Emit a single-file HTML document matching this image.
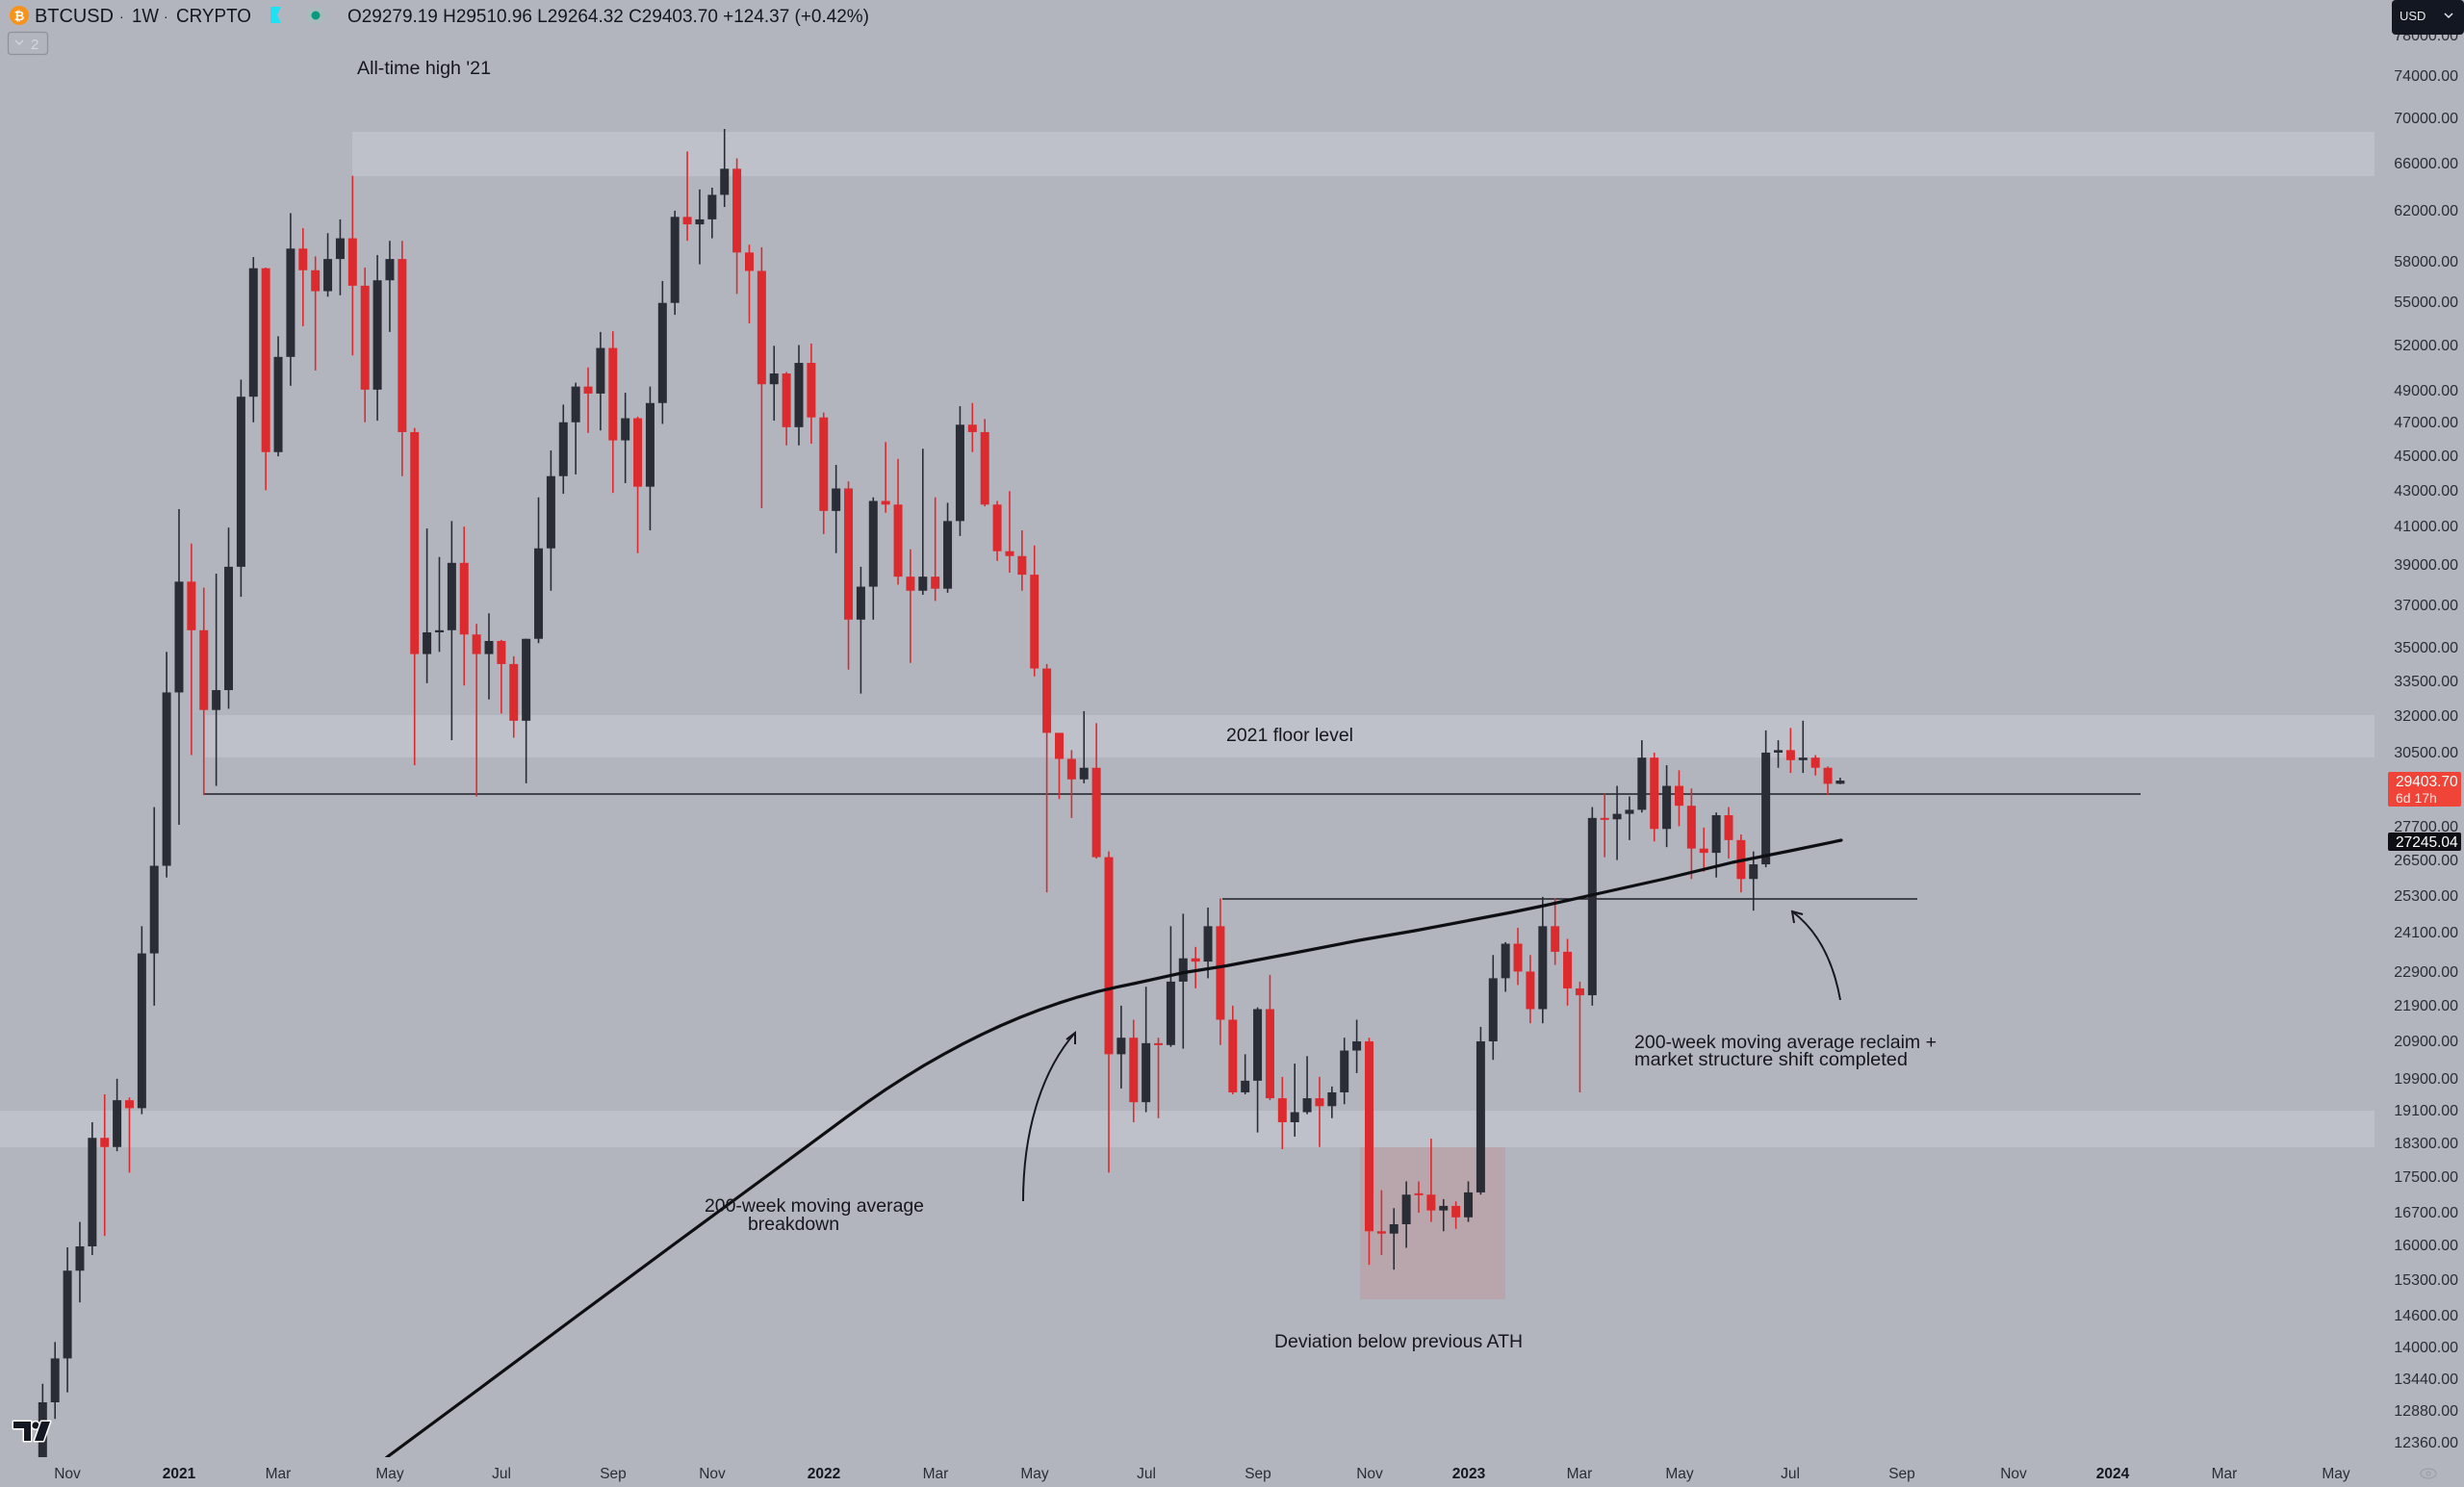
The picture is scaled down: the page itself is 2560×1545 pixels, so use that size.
<!DOCTYPE html>
<html>
<head>
<meta charset="utf-8">
<style>
html,body{margin:0;padding:0;background:#b2b5bd;overflow:hidden;width:2560px;height:1545px;}
svg{display:block;position:absolute;left:0;top:0;}
.ann{font-family:"Liberation Sans",sans-serif;font-size:19.5px;fill:#16181d;}
.ax{font-family:"Liberation Sans",sans-serif;font-size:16px;fill:#2a2d34;}
.tx{font-family:"Liberation Sans",sans-serif;font-size:15.5px;fill:#2a2d34;}
.hd{font-family:"Liberation Sans",sans-serif;fill:#131722;}
</style>
</head>
<body>
<svg id="chart" width="2560" height="1545" viewBox="0 0 2560 1545" xmlns="http://www.w3.org/2000/svg">
  <defs>
    <clipPath id="plot"><rect x="0" y="0" width="2467" height="1514"/></clipPath>
  </defs>
  <rect x="0" y="0" width="2560" height="1545" fill="#b2b5bd"/>

  <!-- zones -->
  <rect x="366" y="137" width="2101" height="46" fill="#bec1c9"/>
  <rect x="213" y="743" width="2254" height="44" fill="#bec1c9"/>
  <rect x="0" y="1154" width="2467" height="38" fill="#bec1c9"/>
  <rect x="1413" y="1192" width="151" height="158" fill="#b9a6ac"/>

  <!-- horizontal levels -->
  <line x1="212" y1="825" x2="2224" y2="825" stroke="#1e2026" stroke-width="1.6"/>
  <line x1="1270" y1="934" x2="1992" y2="934" stroke="#1e2026" stroke-width="1.6"/>

  <g id="candles" clip-path="url(#plot)"></g>

  <!-- 200-week MA -->
  <g clip-path="url(#plot)">
  <path d="M397,1520 L402,1514 L450,1478.5 L500,1441.5 L600,1367 L700,1293 L800,1219.5 L880,1160.3 L900,1145.9 L920,1132.2 L940,1119.3 L960,1107 L980,1095.6 L1000,1084.8 L1020,1074.8 L1040,1065.5 L1060,1057 L1080,1049.2 L1100,1042.2 L1120,1035.9 L1140,1030.3 L1160,1025.7 L1180,1021.5 L1230,1010.5 L1274,1003.5 L1340,991 L1412,977 L1470,967 L1528,956 L1570,948 L1604,941 L1658,929 L1730,913 L1800,896 L1860,884 L1913,873" fill="none" stroke="#0e0f13" stroke-width="3.2" stroke-linejoin="round" stroke-linecap="round"/>
  </g>

  <!-- arrows -->
  <path d="M1063,1248 C1063,1180 1080,1115 1117,1073" fill="none" stroke="#16181d" stroke-width="2"/>
  <path d="M1108,1080 L1117,1073 L1117,1085" fill="none" stroke="#16181d" stroke-width="2"/>
  <path d="M1912,1039 C1905,1000 1890,968 1862,947" fill="none" stroke="#16181d" stroke-width="2"/>
  <path d="M1873,950 L1862,947 L1864,959" fill="none" stroke="#16181d" stroke-width="2"/>

  <!-- annotations -->
  <text class="ann" x="371" y="77" textLength="139" lengthAdjust="spacingAndGlyphs">All-time high '21</text>
  <text class="ann" x="1274" y="770" textLength="132" lengthAdjust="spacingAndGlyphs">2021 floor level</text>
  <text class="ann" x="732" y="1259" textLength="228" lengthAdjust="spacingAndGlyphs">200-week moving average</text>
  <text class="ann" x="777" y="1278" textLength="95" lengthAdjust="spacingAndGlyphs">breakdown</text>
  <text class="ann" x="1698" y="1089" textLength="314" lengthAdjust="spacingAndGlyphs">200-week moving average reclaim +</text>
  <text class="ann" x="1698" y="1107" textLength="284" lengthAdjust="spacingAndGlyphs">market structure shift completed</text>
  <text class="ann" x="1324" y="1400" textLength="258" lengthAdjust="spacingAndGlyphs">Deviation below previous ATH</text>

  <!-- header -->
  <circle cx="20" cy="16" r="10" fill="#f7931a"/>
  <text x="20" y="21" text-anchor="middle" font-family="Liberation Sans, sans-serif" font-size="13" font-weight="bold" fill="#fff">₿</text>
  <text class="hd" x="36" y="23" font-size="20" textLength="82" lengthAdjust="spacingAndGlyphs">BTCUSD</text>
  <text class="hd" x="124" y="22" font-size="14" fill="#8a8d96">·</text>
  <text class="hd" x="137" y="23" font-size="20" textLength="28" lengthAdjust="spacingAndGlyphs">1W</text>
  <text class="hd" x="170" y="22" font-size="14" fill="#8a8d96">·</text>
  <text class="hd" x="183" y="23" font-size="20" textLength="78" lengthAdjust="spacingAndGlyphs">CRYPTO</text>
  <path d="M281,7 H292 L288,15.5 L292,24 H281 Z" fill="#1fe0f5"/>
  <circle cx="328" cy="16" r="9" fill="#a9bcbc"/>
  <circle cx="328" cy="16" r="4.5" fill="#089981"/>
  <text class="hd" x="361" y="23" font-size="19" textLength="542" lengthAdjust="spacingAndGlyphs">O29279.19 H29510.96 L29264.32 C29403.70 +124.37 (+0.42%)</text>
  <rect x="8.5" y="33.5" width="41" height="23" rx="3" fill="none" stroke="#8f929b" stroke-width="1.3"/>
  <path d="M16,42 L20,46 L24,42" fill="none" stroke="#d4d6dc" stroke-width="1.4"/>
  <text x="32" y="51" font-family="Liberation Sans, sans-serif" font-size="15" fill="#d4d6dc">2</text>

  <!-- price axis labels -->
  <g class="ax" text-anchor="end">
    <text x="2554" y="42">78000.00</text>
    <text x="2554" y="84">74000.00</text>
    <text x="2554" y="128">70000.00</text>
    <text x="2554" y="175">66000.00</text>
    <text x="2554" y="224">62000.00</text>
    <text x="2554" y="277">58000.00</text>
    <text x="2554" y="319">55000.00</text>
    <text x="2554" y="364">52000.00</text>
    <text x="2554" y="411">49000.00</text>
    <text x="2554" y="444">47000.00</text>
    <text x="2554" y="479">45000.00</text>
    <text x="2554" y="515">43000.00</text>
    <text x="2554" y="552">41000.00</text>
    <text x="2554" y="592">39000.00</text>
    <text x="2554" y="634">37000.00</text>
    <text x="2554" y="678">35000.00</text>
    <text x="2554" y="713">33500.00</text>
    <text x="2554" y="749">32000.00</text>
    <text x="2554" y="787">30500.00</text>
    <text x="2554" y="864">27700.00</text>
    <text x="2554" y="899">26500.00</text>
    <text x="2554" y="936">25300.00</text>
    <text x="2554" y="974">24100.00</text>
    <text x="2554" y="1015">22900.00</text>
    <text x="2554" y="1050">21900.00</text>
    <text x="2554" y="1087">20900.00</text>
    <text x="2554" y="1126">19900.00</text>
    <text x="2554" y="1159">19100.00</text>
    <text x="2554" y="1193">18300.00</text>
    <text x="2554" y="1228">17500.00</text>
    <text x="2554" y="1265">16700.00</text>
    <text x="2554" y="1299">16000.00</text>
    <text x="2554" y="1335">15300.00</text>
    <text x="2554" y="1372">14600.00</text>
    <text x="2554" y="1405">14000.00</text>
    <text x="2554" y="1438">13440.00</text>
    <text x="2554" y="1471">12880.00</text>
    <text x="2554" y="1504">12360.00</text>
  </g>

  <!-- USD button -->
  <rect x="2485" y="0" width="75" height="36" rx="4" fill="#131722"/>
  <text x="2493" y="21" font-family="Liberation Sans, sans-serif" font-size="13" fill="#e8e9ec">USD</text>
  <path d="M2540,14 L2544,18 L2548,14" fill="none" stroke="#e8e9ec" stroke-width="1.5"/>

  <!-- price tags -->
  <rect x="2481" y="802" width="76" height="36" rx="2" fill="#f04438"/>
  <text x="2489" y="817" font-family="Liberation Sans, sans-serif" font-size="15.5" fill="#ffffff">29403.70</text>
  <text x="2489" y="834" font-family="Liberation Sans, sans-serif" font-size="14" fill="#ffe1de">6d 17h</text>
  <rect x="2481" y="865" width="76" height="19" rx="2" fill="#0d0f14"/>
  <text x="2489" y="880" font-family="Liberation Sans, sans-serif" font-size="15.5" fill="#ffffff">27245.04</text>

  <!-- time axis -->
  <g class="tx" text-anchor="middle">
    <text x="70" y="1536">Nov</text>
    <text x="186" y="1536" font-weight="bold" fill="#131722">2021</text>
    <text x="289" y="1536">Mar</text>
    <text x="405" y="1536">May</text>
    <text x="521" y="1536">Jul</text>
    <text x="637" y="1536">Sep</text>
    <text x="740" y="1536">Nov</text>
    <text x="856" y="1536" font-weight="bold" fill="#131722">2022</text>
    <text x="972" y="1536">Mar</text>
    <text x="1075" y="1536">May</text>
    <text x="1191" y="1536">Jul</text>
    <text x="1307" y="1536">Sep</text>
    <text x="1423" y="1536">Nov</text>
    <text x="1526" y="1536" font-weight="bold" fill="#131722">2023</text>
    <text x="1641" y="1536">Mar</text>
    <text x="1745" y="1536">May</text>
    <text x="1860" y="1536">Jul</text>
    <text x="1976" y="1536">Sep</text>
    <text x="2092" y="1536">Nov</text>
    <text x="2195" y="1536" font-weight="bold" fill="#131722">2024</text>
    <text x="2311" y="1536">Mar</text>
    <text x="2427" y="1536">May</text>
  </g>

  <!-- eye icon -->
  <ellipse cx="2523" cy="1531" rx="8" ry="5" fill="none" stroke="#9da0a8" stroke-width="1.3"/>
  <circle cx="2523" cy="1531" r="2" fill="none" stroke="#9da0a8" stroke-width="1.2"/>

  <!-- TV logo -->
  <g fill="#131722" stroke="#ffffff" stroke-width="3" stroke-linejoin="round" paint-order="stroke">
    <path d="M14,1477 H32 V1497 H25 V1484 H14 Z"/>
    <circle cx="37" cy="1481" r="3.6"/>
    <path d="M43,1477 H52 L45,1497 H36 Z"/>
  </g>
</svg>
<script>
(function(){
var D=[
[10.67,11.50,10.54,11.30],[11.30,11.72,11.20,11.50],[11.50,13.35,11.40,13.03],[13.03,14.10,12.75,13.80],
[13.80,15.96,13.20,15.48],[15.48,16.50,14.85,15.98],[15.98,18.80,15.80,18.42],[18.42,19.50,16.20,18.20],
[18.20,19.90,18.10,19.35],[19.35,19.42,17.60,19.15],[19.15,24.30,19.00,23.45],[23.45,28.40,21.90,26.30],
[26.30,34.80,25.90,33.00],
[33.00,41.95,27.75,38.15],[38.15,40.10,30.40,35.80],[35.80,37.85,28.85,32.25],[32.25,38.55,29.20,33.10],
[33.10,40.95,32.30,38.90],[38.90,49.70,37.40,48.60],[48.60,58.35,47.00,57.50],[57.50,57.55,43.00,45.20],
[45.20,52.60,44.95,51.20],[51.20,61.80,49.30,59.00],[59.00,60.60,53.30,57.35],[57.35,58.40,50.30,55.80],
[55.80,60.20,55.40,58.20],[58.20,61.30,55.50,59.80],[59.80,64.90,51.30,56.20],[56.20,57.55,47.00,49.05],
[49.05,58.50,47.10,56.60],[56.60,59.60,52.90,58.20],[58.20,59.60,43.80,46.40],[46.40,46.65,30.00,34.70],
[34.70,40.90,33.40,35.70],[35.70,39.40,34.80,35.80],[35.80,41.30,31.00,39.10],[39.10,41.00,33.30,35.60],
[35.60,36.10,28.80,34.70],[34.70,36.60,32.70,35.30],[35.30,35.35,32.10,34.25],[34.25,34.60,31.10,31.80],
[31.80,35.40,29.30,35.40],[35.40,42.60,35.20,39.85],[39.85,45.30,37.70,43.80],[43.80,48.10,42.80,47.00],
[47.00,49.50,43.90,49.25],[49.25,50.50,46.35,48.80],[48.80,52.90,46.50,51.80],[51.80,52.95,42.85,45.90],
[45.90,48.85,43.40,47.25],[47.25,47.35,39.60,43.20],[43.20,49.25,40.80,48.20],[48.20,56.55,46.90,54.95],
[54.95,62.00,54.10,61.50],[61.50,67.00,59.60,60.90],[60.90,63.75,57.80,61.30],[61.30,63.90,59.80,63.30],
[63.30,69.00,62.30,65.50],[65.50,66.40,55.60,58.70],[58.70,59.30,53.50,57.30],[57.30,59.10,42.00,49.40],
[49.40,51.95,47.10,50.10],[50.10,50.20,45.60,46.70],[46.70,52.00,45.60,50.80],[50.80,52.10,45.70,47.30],
[47.30,47.60,40.60,41.85],[41.85,44.45,39.60,43.10],[43.10,43.50,34.00,36.30],[36.30,38.90,32.95,37.90],
[37.90,42.60,36.30,42.40],[42.40,45.80,41.75,42.20],[42.20,44.80,38.00,38.40],[38.40,39.80,34.30,37.70],
[37.70,45.40,37.50,38.40],[38.40,42.60,37.20,37.80],[37.80,42.30,37.60,41.30],[41.30,48.00,40.50,46.85],
[46.85,48.20,45.20,46.40],[46.40,47.20,42.10,42.20],[42.20,42.40,39.20,39.70],[39.70,42.95,38.60,39.45],
[39.45,40.80,37.70,38.50],[38.50,40.00,33.70,34.05],[34.05,34.25,25.40,31.30],[31.30,31.30,28.70,30.25],
[30.25,30.60,28.00,29.45],[29.45,32.20,29.30,29.90],[29.90,31.70,26.55,26.60],[26.60,26.80,17.60,20.55],
[20.55,21.90,19.65,21.00],[21.00,21.50,18.80,19.30],[19.30,22.45,19.05,20.85],[20.85,21.00,18.90,20.80],
[20.80,24.30,20.75,22.60],[22.60,24.70,20.70,23.30],[23.30,23.65,22.40,23.20],[23.20,24.90,22.70,24.30],
[24.30,25.20,20.80,21.50],[21.50,21.90,19.50,19.55],[19.55,20.55,19.50,19.85],[19.85,21.85,18.55,21.80],
[21.80,22.80,19.35,19.40],[19.40,19.95,18.15,18.80],[18.80,20.30,18.45,19.05],[19.05,20.50,19.00,19.40],
[19.40,19.95,18.20,19.20],[19.20,19.70,18.90,19.55],[19.55,21.00,19.25,20.65],[20.65,21.50,20.05,20.90],
[20.90,21.00,15.60,16.30],[16.30,17.20,15.80,16.25],[16.25,16.80,15.50,16.45],[16.45,17.40,15.95,17.10],
[17.13,17.40,16.70,17.10],[17.10,18.40,16.50,16.75],[16.75,17.00,16.30,16.85],[16.85,16.95,16.35,16.60],
[16.60,17.40,16.50,17.15],[17.15,21.30,17.10,20.90],[20.90,23.40,20.40,22.70],[22.70,23.80,22.30,23.75],
[23.75,24.25,22.50,22.90],[22.90,23.40,21.40,21.80],[21.80,25.25,21.40,24.30],[24.30,25.20,23.10,23.50],
[23.50,23.90,21.90,22.40],[22.40,22.60,19.55,22.20],[22.20,28.40,21.90,28.00],[28.00,28.90,26.60,27.95],
[27.95,29.20,26.50,28.15],[28.15,28.80,27.20,28.30],[28.30,31.00,28.20,30.30],[30.30,30.50,27.15,27.60],
[27.60,30.00,26.95,29.20],[29.20,29.80,27.70,28.45],[28.45,29.10,25.85,26.90],[26.90,27.65,26.10,26.75],
[26.75,28.20,25.90,28.10],[28.10,28.40,26.55,27.20],[27.20,27.40,25.40,25.85],[25.85,26.80,24.80,26.35],
[26.35,31.40,26.25,30.50],[30.50,31.00,29.90,30.60],[30.60,31.50,29.70,30.20],[30.20,31.80,29.70,30.30],
[30.30,30.40,29.60,29.90],[29.90,29.95,28.85,29.28],[29.279,29.511,29.264,29.404]
];
function Y(p){return 8977.3-793.7*Math.log(p*1000);}
var NS="http://www.w3.org/2000/svg";
var g=document.getElementById("candles");
var RED="#dc2b2f",DARK="#2a2d35";
for(var k=0;k<D.length;k++){
  var i=k-13, d=D[k];
  var x=186+12.88*i;
  var o=d[0],h=d[1],l=d[2],c=d[3];
  var col=c<o?RED:DARK;
  var yh=Math.max(0,Y(h)), yl=Math.min(1514,Y(l));
  if(yl>yh){
    var w=document.createElementNS(NS,"rect");
    w.setAttribute("x",(x-0.8).toFixed(2));
    w.setAttribute("y",yh.toFixed(2));
    w.setAttribute("width","1.6");
    w.setAttribute("height",(yl-yh).toFixed(2));
    w.setAttribute("fill",col);
    g.appendChild(w);
  }
  var yo=Y(o), yc=Y(c);
  var top=Math.min(yo,yc), bot=Math.max(yo,yc);
  if(bot-top<2){bot=top+2;}
  if(top>1514) continue;
  if(bot>1514) bot=1514;
  var b=document.createElementNS(NS,"rect");
  b.setAttribute("x",(x-4.5).toFixed(2));
  b.setAttribute("y",top.toFixed(2));
  b.setAttribute("width","9");
  b.setAttribute("height",(bot-top).toFixed(2));
  b.setAttribute("fill",col);
  g.appendChild(b);
}
})();
</script>
</body>
</html>
